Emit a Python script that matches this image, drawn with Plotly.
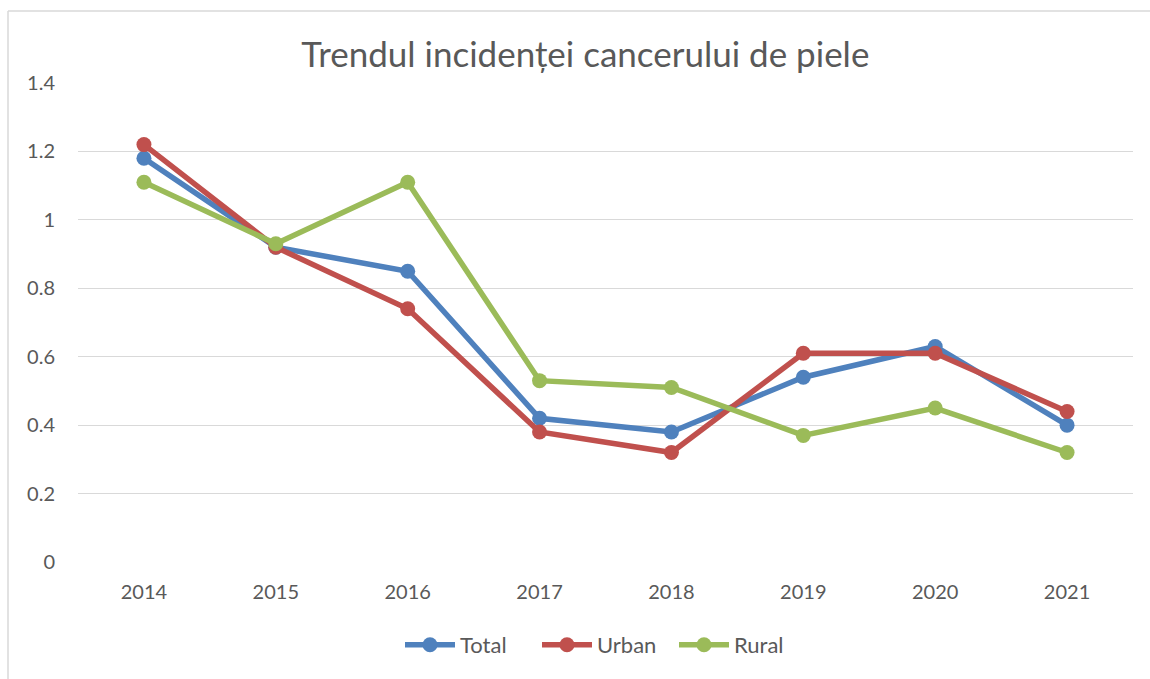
import plotly.graph_objects as go

years = ["2014", "2015", "2016", "2017", "2018", "2019", "2020", "2021"]
total = [1.18, 0.92, 0.85, 0.42, 0.38, 0.54, 0.63, 0.40]
urban = [1.22, 0.92, 0.74, 0.38, 0.32, 0.61, 0.61, 0.44]
rural = [1.11, 0.93, 1.11, 0.53, 0.51, 0.37, 0.45, 0.32]

series = [("Total", total, "#4F81BD"), ("Urban", urban, "#C0504D"), ("Rural", rural, "#9BBB59")]

FONT = "Lato, 'Open Sans', sans-serif"
TXT = "#595959"

fig = go.Figure()
for name, vals, col in series:
    fig.add_trace(go.Scatter(
        x=years, y=vals, name=name, mode="lines+markers",
        line=dict(color=col, width=5.5),
        marker=dict(color=col, size=15),
    ))

L, R, T, B = 78, 17, 83, 117
W, H = 1150, 679
pw, ph = W - L - R, H - T - B

fig.update_layout(
    width=W, height=H,
    margin=dict(l=L, r=R, t=T, b=B),
    paper_bgcolor="white", plot_bgcolor="white",
    font=dict(family=FONT, color=TXT, size=20),
    title=dict(text="Trendul incidenței cancerului de piele", x=0.509, xanchor="center",
               y=1 - 55 / H, yanchor="middle", font=dict(size=35, color=TXT)),
    xaxis=dict(type="category", showgrid=False, showline=False, zeroline=False,
               ticks="", tickfont=dict(size=20), range=[-0.5, 7.5], ticklabelstandoff=16),
    yaxis=dict(range=[0, 1.4], dtick=0.2, showgrid=True, gridcolor="#D9D9D9", gridwidth=1.3,
               zeroline=False, showline=False, ticks="", tickfont=dict(size=20),
               ticklabelstandoff=22),
    legend=dict(orientation="h", x=0.5, xanchor="center", y=-(645 - 562) / ph, yanchor="middle",
                font=dict(size=22), itemwidth=50, entrywidth=72, entrywidthmode="pixels"),
    showlegend=True,
    shapes=[
        dict(type="line", xref="paper", yref="paper",
             x0=(8 - L) / pw, x1=(8 - L) / pw, y0=1 + (T - 11) / ph, y1=-(H - T - ph + 10) / ph,
             line=dict(color="#D9D9D9", width=1.5)),
        dict(type="line", xref="paper", yref="paper",
             x0=(8 - L) / pw, x1=(W + 10 - L) / pw, y0=1 + (T - 11) / ph, y1=1 + (T - 11) / ph,
             line=dict(color="#D9D9D9", width=1.5)),
    ],
)

fig.write_html("out.html")
